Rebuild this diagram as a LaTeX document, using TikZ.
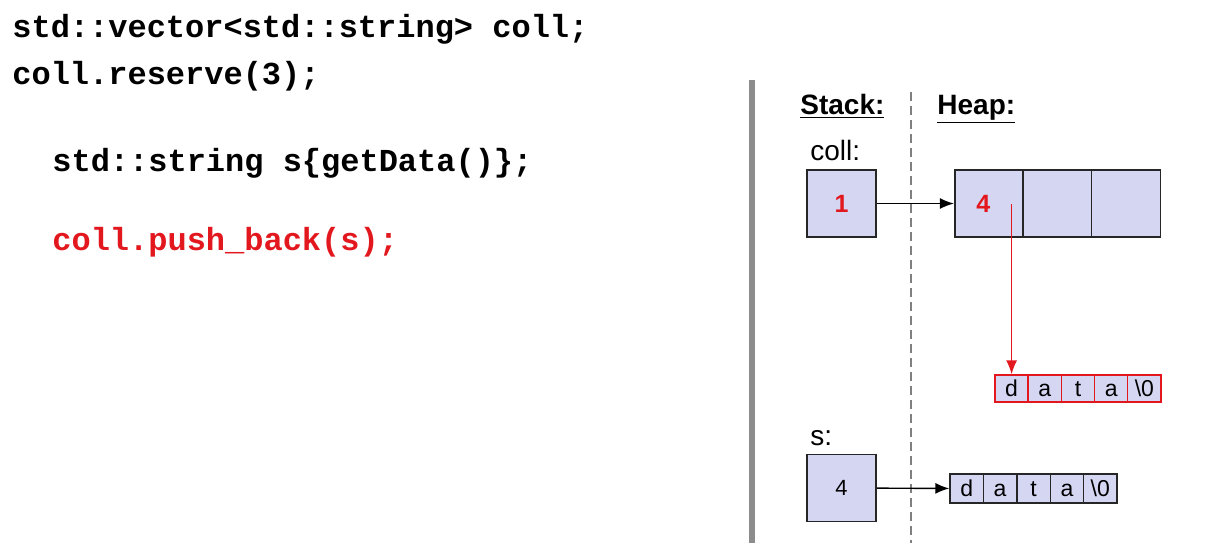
\documentclass[tikz,border=0pt]{standalone}
\usepackage{fontspec}
\setmainfont{Liberation Sans}
\setmonofont{Liberation Mono}
\usepackage{xcolor}
\usetikzlibrary{arrows.meta}
\definecolor{cellfill}{RGB}{213,215,242}
\definecolor{codered}{RGB}{226,24,30}
\definecolor{bargray}{RGB}{140,140,140}
\begin{document}
\begin{tikzpicture}[x=0.5pt,y=-0.5pt,
    code/.style={anchor=base west,inner sep=0,font=\ttfamily\bfseries\fontsize{16}{20}\selectfont},
    label/.style={anchor=base west,inner sep=0,font=\fontsize{14}{16}\selectfont},
    box/.style={draw=black!85,line width=0.8pt,fill=cellfill,inner sep=0,
        minimum width=34.5pt,minimum height=33.5pt,font=\fontsize{11}{13}\selectfont},
    val/.style={box,text=codered,font=\bfseries\fontsize{12.5}{14}\selectfont},
    chr/.style={draw=black!85,line width=0.7pt,fill=cellfill,inner sep=0,
        text height=8.2pt,text depth=0pt,
        minimum width=16.7pt,minimum height=14.5pt,font=\fontsize{11.5}{13}\selectfont},
    redchr/.style={chr,draw=codered,minimum height=13.5pt},
    ptr/.style={-{Latex[length=7pt,width=5.5pt]},line width=0.7pt}]
        \useasboundingbox (0,0) rectangle (1206,543);

        % code
        \node[code] (l1) at (12,37) {std::vector<std::string> coll;};
        \node[code] (l2) at (12,84) {coll.reserve(3);};
        \node[code] (l3) at (52,171) {std::string s\{getData()\};};
        \node[code,codered] (l4) at (52,250) {coll.push\_back(s);};

        % separators
        \fill[bargray] (749,80) rectangle (755,543);
        \draw[gray,line width=0.8pt,dash pattern=on 4.5pt off 2.5pt] (911,92)--(911,543);

        \node[label,font=\bfseries\fontsize{14}{16}\selectfont] (stack) at (800,114) {\underline{Stack:}};
        \node[label,font=\bfseries\fontsize{14}{16}\selectfont] (heap) at (937,114) {\underline{Heap:}};
        \node[label] (colllbl) at (810,160) {coll:};
        \node[label] (slbl) at (810,445) {s:};

        % stack
        \node[val] (coll) at (841.5,203.5) {1};
        \node[box] (s) at (841.5,488) {4};

        % heap vector
        \node[val] (h1) at (989.2,203.5) {\hspace*{-6pt}4};
        \node[box] (h2) at (1057.5,203.5) {};
        \node[box] (h3) at (1125.8,203.5) {};
        \draw[ptr] (coll) -- (h1);

        % string in vector
        \node[redchr] (r1) at (1011.6,388.5) {d};
        \node[redchr] (r2) at (1044.8,388.5) {a};
        \node[redchr] (r3) at (1078,388.5) {t};
        \node[redchr] (r4) at (1111.2,388.5) {a};
        \node[redchr] (r5) at (1144.4,388.5) {\textbackslash0};
        \coordinate (p) at (1011.6,204);
        \draw[ptr,codered] (p) -- (r1.north);

        % string of s
        \node[chr] (b1) at (966.7,488.5) {d};
        \node[chr] (b2) at (1000.1,488.5) {a};
        \node[chr] (b3) at (1033.5,488.5) {t};
        \node[chr] (b4) at (1066.9,488.5) {a};
        \node[chr] (b5) at (1100.3,488.5) {\textbackslash0};
        \draw[ptr] (s) -- (b1);
    \end{tikzpicture}
\end{document}
